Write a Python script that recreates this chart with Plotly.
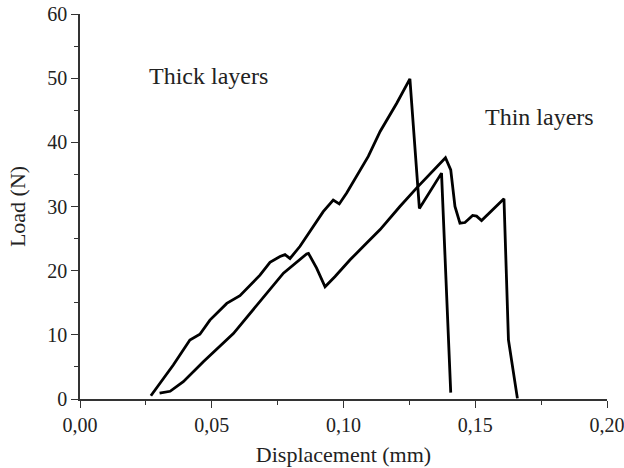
import plotly.graph_objects as go

# Thick layers curve (steeper, peak ~50 N)
thick_x = [0.0269, 0.0304, 0.0354, 0.0417, 0.0455, 0.0493, 0.0557, 0.0607, 0.0683, 0.0721,
           0.0759, 0.0778, 0.0797, 0.0835, 0.0885, 0.0923, 0.0961, 0.0984, 0.1012, 0.1063,
           0.1094, 0.1139, 0.1202, 0.1252, 0.1288, 0.1372, 0.1407]
thick_y = [0.5, 2.4, 5.3, 9.2, 10.1, 12.3, 14.9, 16.1, 19.3, 21.3,
           22.2, 22.5, 21.9, 23.8, 26.9, 29.2, 31.0, 30.4, 32.1, 35.7,
           37.8, 41.7, 46.1, 49.9, 29.7, 35.2, 1.0]

# Thin layers curve (peak ~37.5 N)
thin_x = [0.0302, 0.0342, 0.0392, 0.0468, 0.0582, 0.0683, 0.0772, 0.0860, 0.0867, 0.0898,
          0.0930, 0.0968, 0.1025, 0.1088, 0.1139, 0.1214, 0.1278, 0.1387, 0.1407, 0.1423,
          0.1442, 0.1461, 0.1490, 0.1505, 0.1524, 0.1609, 0.1626, 0.1660]
thin_y = [0.9, 1.2, 2.7, 5.8, 10.2, 15.2, 19.6, 22.6, 22.7, 20.4,
          17.5, 19.1, 21.7, 24.3, 26.4, 30.0, 32.9, 37.6, 35.7, 30.0,
          27.4, 27.5, 28.6, 28.5, 27.8, 31.2, 9.2, 0.1]

labels = ["Thick layers", "Thin layers"]
label_x = [0.0486, 0.1742]
label_y = [50.4, 44.0]

x_ticks = [0.0, 0.05, 0.10, 0.15, 0.20]
y_ticks = [0, 10, 20, 30, 40, 50, 60]

font_family = "Liberation Serif, Times New Roman, serif"

fig = go.Figure()
for xs, ys in [(thick_x, thick_y), (thin_x, thin_y)]:
    fig.add_trace(go.Scatter(x=xs, y=ys, mode="lines",
                             line=dict(color="black", width=2.8),
                             showlegend=False, hoverinfo="skip"))

for t, lx, ly in zip(labels, label_x, label_y):
    fig.add_annotation(x=lx, y=ly, text=t, showarrow=False,
                       font=dict(family=font_family, size=24, color="#222"))

axis_common = dict(
    showline=True, linecolor="#333", linewidth=1.5, mirror=False,
    showgrid=False, zeroline=False, automargin=False,
    ticks="outside", ticklen=7, tickwidth=1.3, tickcolor="#333",
    ticklabeloverflow="allow",
    tickfont=dict(family=font_family, size=20, color="#222"),
)

fig.update_layout(
    width=624, height=468,
    margin=dict(l=80, r=17, t=14, b=69),
    paper_bgcolor="white", plot_bgcolor="white",
    separators=",.",
    xaxis=dict(range=[0, 0.2], tickvals=x_ticks, tickformat=".2f",
               minor=dict(ticks="outside", ticklen=4, tickwidth=1.2, tickcolor="#333", dtick=0.025),
               title=dict(text="Displacement (mm)", font=dict(family=font_family, size=22, color="#222"), standoff=12),
               **axis_common),
    yaxis=dict(range=[0, 60], tickvals=y_ticks,
               minor=dict(ticks="outside", ticklen=4, tickwidth=1.2, tickcolor="#333", dtick=5),
               title=dict(text="Load (N)", font=dict(family=font_family, size=22, color="#222"), standoff=16),
               **axis_common),
)

fig.write_html("out.html", config={"displayModeBar": False})

# remove the default body margin so the figure sits at the window origin
with open("out.html", "r", encoding="utf-8") as f:
    html = f.read()
html = html.replace("<body>", '<body style="margin:0;padding:0;overflow:hidden">', 1)
with open("out.html", "w", encoding="utf-8") as f:
    f.write(html)
